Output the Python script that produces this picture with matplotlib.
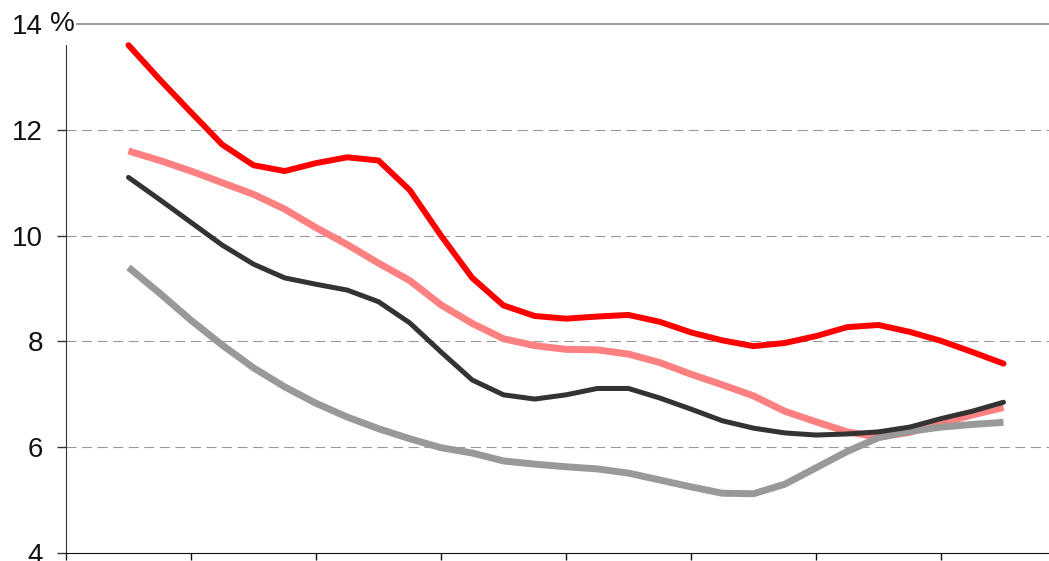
import matplotlib
matplotlib.use("Agg")
import matplotlib.pyplot as plt

# quarterly points, x in years from the first tick
quarters = [0.5 + 0.25 * k for k in range(29)]

red = [13.60, 12.95, 12.33, 11.72, 11.33, 11.22, 11.37, 11.48, 11.42, 10.86,
       10.00, 9.20, 8.68, 8.48, 8.43, 8.47, 8.50, 8.37, 8.17, 8.02,
       7.91, 7.97, 8.10, 8.27, 8.31, 8.18, 8.01, 7.80, 7.58]
pink = [11.60, 11.42, 11.22, 11.00, 10.78, 10.50, 10.15, 9.83, 9.48, 9.15,
        8.69, 8.34, 8.05, 7.92, 7.85, 7.84, 7.76, 7.60, 7.38, 7.18,
        6.97, 6.68, 6.48, 6.29, 6.19, 6.28, 6.45, 6.61, 6.75]
black = [11.10, 10.68, 10.25, 9.82, 9.46, 9.20, 9.08, 8.97, 8.75, 8.35,
         7.80, 7.27, 6.99, 6.91, 6.99, 7.11, 7.11, 6.93, 6.72, 6.50,
         6.36, 6.27, 6.23, 6.25, 6.29, 6.38, 6.54, 6.68, 6.85]
grey = [9.40, 8.91, 8.40, 7.93, 7.50, 7.14, 6.83, 6.57, 6.35, 6.16,
        5.99, 5.89, 5.74, 5.68, 5.63, 5.59, 5.51, 5.38, 5.25, 5.13,
        5.12, 5.30, 5.61, 5.92, 6.18, 6.30, 6.38, 6.43, 6.47]

yticks = [4, 6, 8, 10, 12, 14]
xticks = [0, 1, 2, 3, 4, 5, 6, 7]

plt.rcParams['font.family'] = ['Liberation Sans', 'DejaVu Sans']

fig = plt.figure(figsize=(10.49, 5.61), dpi=100)
ax = fig.add_axes([66 / 1049, 8 / 561, 983 / 1049, 529 / 561])

ax.plot(quarters, pink, color='#ff8080', lw=5, solid_capstyle='butt',
        solid_joinstyle='round', zorder=3)
ax.plot(quarters, grey, color='#999999', lw=5, solid_capstyle='butt',
        solid_joinstyle='round', zorder=4)
ax.plot(quarters, black, color='#333333', lw=3.6, solid_capstyle='round',
        solid_joinstyle='round', zorder=5)
ax.plot(quarters, red, color='#ff0000', lw=4.3, solid_capstyle='round',
        solid_joinstyle='round', zorder=6)

ax.set_xlim(0, 983 / 125)
ax.set_ylim(4, 14)

ax.set_yticks(yticks)
ax.set_yticklabels([str(v) for v in yticks], fontsize=20)
ax.set_xticks(xticks)
ax.set_xticklabels([])
ax.tick_params(axis='y', direction='out', length=6.5, width=1, color='#333333',
               pad=10, labelcolor='#111111')
ax.tick_params(axis='x', direction='out', length=5, width=1, color='#111111')
ax.yaxis.get_major_ticks()[-1].tick1line.set_visible(False)

# dashed grid lines (12 and below), solid top line at 14
for v in yticks[1:-1]:
    ax.axhline(v, color='#999999', lw=0.8, linestyle=(0, (9, 5)), zorder=1)
ax.axhline(14, xmin=11 / 983, color='#888888', lw=1.2, zorder=1, clip_on=False)

ax.text(9 / 983, 14, '%', fontsize=20, color='#111111',
        ha='right', va='center', transform=ax.get_yaxis_transform())

for s in ['top', 'right']:
    ax.spines[s].set_visible(False)
ax.spines['left'].set_bounds(4, 13.6)
ax.spines['left'].set_color('#333333')
ax.spines['bottom'].set_color('#111111')

fig.savefig('out.png', dpi=100, facecolor='white')
